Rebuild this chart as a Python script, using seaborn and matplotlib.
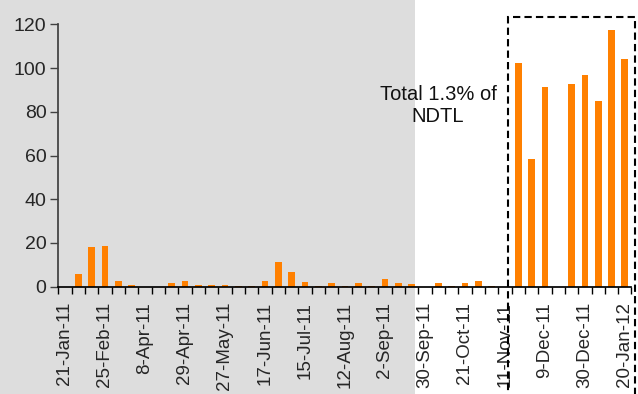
import numpy as np
import pandas as pd
import matplotlib
matplotlib.use("Agg")
import matplotlib.pyplot as plt
from matplotlib.patches import Rectangle
import seaborn as sns

# reporting dates (only every third one is labelled on the axis)
dates = ['21-Jan-11', '4-Feb-11', '18-Feb-11',
         '25-Feb-11', '11-Mar-11', '25-Mar-11',
         '8-Apr-11', '15-Apr-11', '22-Apr-11',
         '29-Apr-11', '13-May-11', '20-May-11',
         '27-May-11', '3-Jun-11', '10-Jun-11',
         '17-Jun-11', '1-Jul-11', '8-Jul-11',
         '15-Jul-11', '29-Jul-11', '5-Aug-11',
         '12-Aug-11', '19-Aug-11', '26-Aug-11',
         '2-Sep-11', '9-Sep-11', '23-Sep-11',
         '30-Sep-11', '7-Oct-11', '14-Oct-11',
         '21-Oct-11', '28-Oct-11', '4-Nov-11',
         '11-Nov-11', '18-Nov-11', '2-Dec-11',
         '9-Dec-11', '16-Dec-11', '23-Dec-11',
         '30-Dec-11', '6-Jan-12', '13-Jan-12',
         '20-Jan-12']

values = [0, 5.8, 18.1, 18.6, 2.6, 0.8, 0, 0, 1.7, 2.6,
          0.8, 0.8, 0.8, 0.3, 0.3, 2.6, 11.3, 6.7, 2.1, 0.3,
          1.7, 0.3, 1.7, 0.3, 3.5, 1.7, 1.2, 0, 1.7, 0.3,
          1.7, 2.6, 0.3, 0, 102.4, 58.4, 91.3, 0, 92.7, 96.8,
          85.0, 117.4, 104.1]

shown_labels = dates[::3]
y_ticks = [0, 20, 40, 60, 80, 100, 120]

sns.set_theme(style="ticks")
plt.rcParams['font.family'] = ['Liberation Sans', 'DejaVu Sans']

fig = plt.figure(figsize=(6.38, 3.94), dpi=100)
fig.patch.set_facecolor('white')
# grey shaded part on the left of the figure
fig.patches.append(Rectangle((0, 0), 0.65, 1, transform=fig.transFigure,
                             facecolor='#dddddd', edgecolor='none', zorder=-1))

ax = fig.add_axes([0.0914, 0.2723, 0.8984, 0.666])
ax.patch.set_alpha(0)

df = pd.DataFrame({'date': dates, 'value': values})
sns.barplot(data=df, x='date', y='value', color='#ff8000', saturation=1,
            width=0.5, errorbar=None, linewidth=0, ax=ax)

ax.set_xlim(-0.5, len(dates) - 0.5)
ax.set_ylim(0, 120)
ax.set_yticks(y_ticks)
ax.set_yticklabels([str(v) for v in y_ticks], fontsize=14)

ax.set_xticks(np.arange(-0.5, len(dates), 1))
ax.set_xticklabels([])
ax.set_xticks(np.arange(0, len(dates), 3), minor=True)
ax.set_xticklabels(shown_labels, minor=True, rotation=90, fontsize=13.5)
ax.tick_params(axis='x', which='minor', length=0, pad=11)
ax.tick_params(axis='x', which='major', length=5, width=1, color='black')
ax.tick_params(axis='y', length=5.5, width=1, pad=3, color='#404040')
ax.set_xlabel('')
ax.set_ylabel('')

sns.despine(ax=ax)
ax.spines['left'].set_color('#404040')
ax.spines['bottom'].set_color('black')

# dashed box round the last bars
fig.patches.append(Rectangle((0.796, -0.05), 0.199, 1.007, transform=fig.transFigure,
                             fill=False, edgecolor='black', linewidth=1.5,
                             linestyle=(0, (3.5, 2)), zorder=5))

fig.text(0.6865, 0.733, 'Total 1.3% of\nNDTL', ha='center', va='center',
         fontsize=14.5, color='#111111')

fig.savefig('out.png', dpi=100)
